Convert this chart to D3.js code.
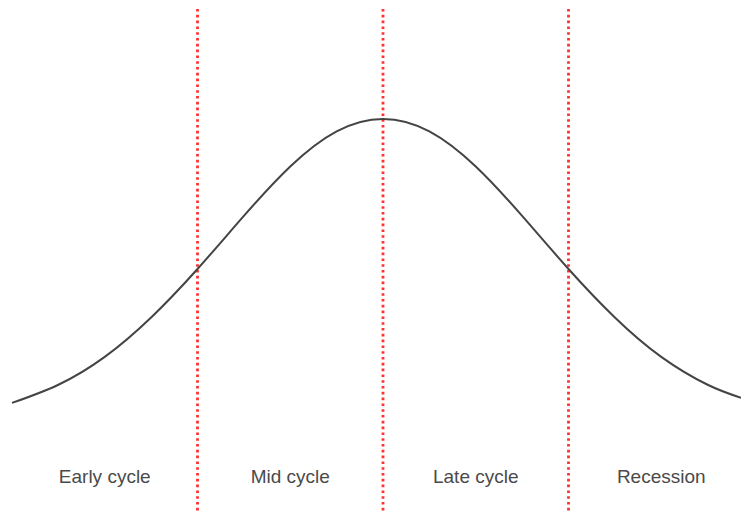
<!DOCTYPE html>
<html>
<head>
<meta charset="utf-8">
<script src="https://cdn.jsdelivr.net/npm/d3@7"></script>
<style>
  html, body { margin: 0; padding: 0; background: #fff; }
</style>
</head>
<body>
<script>
"use strict";
// Curve position along the cycle (1 unit = one phase) and relative level
const cycleX = [0, 0.25, 0.5, 0.75, 1, 1.25, 1.5, 1.75, 2, 2.25, 2.5, 2.75, 3, 3.25, 3.5, 3.75, 3.93];
const cycleY = [6.3, 12.3, 21.5, 34.5, 50.5, 68, 84.3, 95.9, 100, 95.9, 84.3, 68, 50.5, 34.5, 21.5, 12.3, 8];
const dividers = [1, 2, 3];
const phases = ["Early cycle", "Mid cycle", "Late cycle", "Recession"];

const width = 741;
const height = 512;

const svg = d3.select("body")
    .append("svg")
    .attr("width", width)
    .attr("height", height);

const xScale = d3.scaleLinear()
    .domain([0, 4])
    .range([12, 754]);

const yScale = d3.scaleLinear()
    .domain([0, 100])
    .range([422, 119]);

// red dotted phase separators
svg.selectAll(".divider")
    .data(dividers)
    .enter().append("line")
    .attr("class", "divider")
    .attr("x1", d => xScale(d))
    .attr("x2", d => xScale(d))
    .attr("y1", 9)
    .attr("y2", height)
    .attr("stroke", "#ff3030")
    .attr("stroke-width", 2.8)
    .attr("stroke-dasharray", "2.6 3.2");

// the cycle curve
const points = cycleX.map((x, i) => ({ x: x, y: cycleY[i] }));
const line = d3.line()
    .x(d => xScale(d.x))
    .y(d => yScale(d.y))
    .curve(d3.curveNatural);

svg.append("path")
    .datum(points)
    .attr("d", line)
    .attr("fill", "none")
    .attr("stroke", "#444")
    .attr("stroke-width", 2);

// phase labels
svg.selectAll(".phase")
    .data(phases)
    .enter().append("text")
    .attr("class", "phase")
    .attr("x", (d, i) => xScale(i + 0.5))
    .attr("y", 483)
    .attr("text-anchor", "middle")
    .attr("font-family", "Liberation Sans, Arial, sans-serif")
    .attr("font-size", 19)
    .attr("fill", "#4a4a4a")
    .text(d => d);
</script>
</body>
</html>
